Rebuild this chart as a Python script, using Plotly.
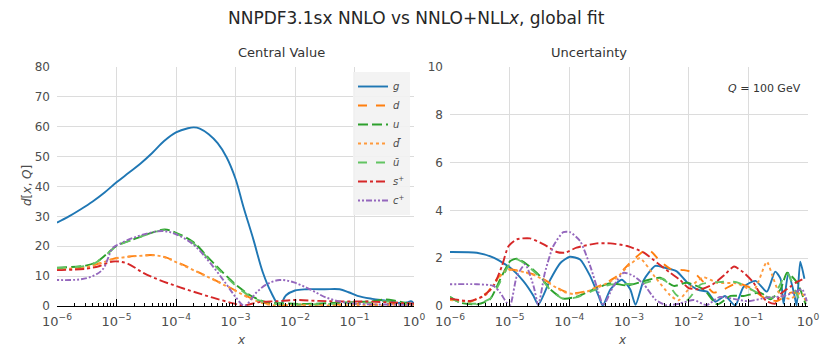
import plotly.graph_objects as go

# ---- data (x given as log10 positions) ----
# Central value panel
g_cv_lx = [-6, -5.8, -5.6, -5.4, -5.2, -5.0, -4.8, -4.6, -4.4, -4.2, -4.0, -3.8, -3.7, -3.6,
           -3.45, -3.3, -3.15, -3.0, -2.87, -2.7, -2.54, -2.4, -2.26, -2.15, -2.0, -1.8, -1.5,
           -1.25, -1.1, -0.95, -0.7, -0.45, -0.25, -0.12, -0.05, 0]
g_cv = [27.9, 30.0, 32.4, 35.0, 38.0, 41.4, 44.5, 47.6, 51.2, 55.2, 58.1, 59.5, 59.8, 59.4,
        57.5, 54.5, 49.8, 42.6, 33.4, 22.3, 11.2, 4.5, 0.2, 3.6, 5.2, 5.6, 5.6,
        5.6, 4.6, 3.4, 2.4, 1.7, 1.0, 1.2, 1.6, 0.8]

d_cv_lx = [-6, -5.5, -5.28, -5.06, -4.72, -4.33, -4.16, -4.0, -3.6, -3.32, -3.04, -2.76, -2.48,
           -2.2, -1.8, -1.4, -1.0, -0.6, -0.3, 0]
d_cv = [12.5, 13.1, 14.3, 15.8, 16.7, 17.0, 16.2, 14.9, 11.1, 8.4, 5.6, 2.8, 0.8,
        0.3, 0.6, 0.4, 0.7, 0.5, 0.8, 0.4]
dbar_cv = [12.3, 13.0, 14.2, 15.7, 16.6, 16.9, 16.1, 14.7, 11.0, 8.3, 5.5, 2.6, 0.6,
           0.1, 0.3, 0.2, 0.3, 0.2, 0.4, 0.2]

u_cv_lx = [-6, -5.5, -5.34, -5.17, -5.0, -4.72, -4.44, -4.19, -4.0, -3.71, -3.43, -3.15, -2.93,
           -2.71, -2.48, -2.2, -1.8, -1.4, -1.0, -0.7, -0.5, -0.3, -0.1, 0]
u_cv = [12.8, 13.6, 14.7, 17.3, 20.1, 22.3, 24.3, 25.6, 24.5, 21.4, 15.6, 10.0, 6.1,
        3.1, 1.3, 0.9, 0.7, 1.0, 1.3, 1.6, 2.2, 1.7, 0.9, 0.5]
ubar_cv = [12.7, 13.5, 14.6, 17.2, 20.0, 22.2, 24.2, 25.4, 24.2, 21.0, 15.2, 9.6, 5.7,
           2.8, 1.1, 0.6, 0.5, 0.7, 1.0, 1.2, 1.6, 1.2, 0.6, 0.3]

s_cv_lx = [-6, -5.5, -5.28, -5.06, -4.83, -4.55, -4.28, -4.0, -3.71, -3.38, -3.04, -2.87, -2.6,
           -2.3, -2.0, -1.6, -1.2, -0.8, -0.4, 0]
s_cv = [12.0, 12.5, 13.4, 14.9, 14.3, 11.1, 8.7, 6.7, 4.8, 2.8, 0.9, 0.2, 1.3,
        1.6, 2.0, 1.7, 1.5, 1.5, 1.2, 0.8]

c_cv_lx = [-6, -5.62, -5.4, -5.23, -5.06, -4.95, -4.72, -4.44, -4.21, -4.0, -3.71, -3.43, -3.15,
           -2.99, -2.85, -2.65, -2.48, -2.26, -2.03, -1.75, -1.47, -1.14, -0.8, -0.4, 0]
c_cv = [8.7, 8.9, 10.0, 12.3, 19.5, 20.8, 22.8, 24.5, 25.1, 24.0, 20.6, 14.5, 7.2,
        2.8, 0.1, 4.5, 7.2, 8.7, 8.0, 5.6, 2.8, 1.1, 0.6, 0.5, 0.3]

# Uncertainty panel
g_unc_lx = [-6, -5.55, -5.27, -4.99, -4.77, -4.6, -4.52, -4.32, -4.15, -3.99, -3.82, -3.65, -3.51,
            -3.44, -3.31, -3.12, -2.98, -2.89, -2.75, -2.56, -2.4, -2.2, -2.03, -1.84, -1.69,
            -1.55, -1.39, -1.22, -1.08, -0.88, -0.69, -0.55, -0.46, -0.41, -0.33, -0.24, -0.19,
            -0.13, -0.06]
g_unc = [2.26, 2.23, 2.02, 1.6, 1.04, 0.42, 0.05, 1.1, 1.8, 2.06, 1.95, 1.25, 0.42,
         0.02, 0.7, 1.1, 0.7, 0.05, 1.1, 1.68, 1.6, 1.45, 1.0, 0.67, 0.6,
         0.18, 0.42, 0.02, 0.8, 1.05, 0.6, 1.44, 1.14, 0.1, 1.37, 0.6, 0.02,
         1.85, 1.14]

d_unc_lx = [-6, -5.66, -5.38, -5.22, -5.05, -4.82, -4.55, -4.32, -4.1, -3.93, -3.71, -3.43, -3.2,
            -2.98, -2.75, -2.64, -2.48, -2.31, -2.08, -1.91, -1.75, -1.58, -1.41, -1.19, -0.97,
            -0.74, -0.52, -0.29, -0.12, -0.03]
d_unc = [0.28, 0.18, 0.56, 1.11, 1.53, 1.46, 1.28, 0.95, 0.63, 0.53, 0.63, 0.91, 1.25,
         1.81, 2.3, 2.3, 1.88, 1.56, 1.5, 1.39, 1.0, 0.56, 0.7, 0.95, 0.77,
         0.35, 0.21, 0.56, 0.5, 0.2]

dbar_unc_lx = [-6, -5.66, -5.38, -5.22, -5.05, -4.82, -4.55, -4.32, -4.1, -3.93, -3.71, -3.43,
               -3.2, -3.0, -2.82, -2.55, -2.31, -2.17, -1.97, -1.75, -1.52, -1.2, -0.91, -0.69,
               -0.58, -0.46, -0.3, -0.12, -0.03]
dbar_unc = [0.25, 0.2, 0.5, 1.05, 1.5, 1.45, 1.25, 0.92, 0.6, 0.5, 0.6, 0.88,
            1.2, 1.7, 2.0, 1.17, 0.45, 0.24, 0.8, 1.2, 0.97, 0.95, 0.67, 1.85,
            1.14, 0.45, 0.3, 0.55, 0.3]

u_unc_lx = [-6, -5.83, -5.55, -5.33, -5.16, -4.99, -4.88, -4.71, -4.49, -4.32, -4.1, -3.88, -3.59,
            -3.31, -3.03, -2.75, -2.48, -2.25, -2.03, -1.75, -1.52, -1.3, -1.08, -0.8, -0.63,
            -0.46, -0.35, -0.18, -0.04]
u_unc = [0.39, 0.14, 0.07, 0.28, 1.11, 1.88, 1.98, 1.74, 1.25, 0.7, 0.31, 0.39, 0.7,
         0.95, 0.86, 1.04, 1.18, 0.84, 0.97, 0.7, 0.07, 0.42, 0.42, 0.56, 0.28,
         0.7, 1.39, 0.97, 0.07]

ubar_unc_lx = [-6, -5.83, -5.55, -5.33, -5.16, -4.99, -4.88, -4.71, -4.49, -4.32, -4.1, -3.88,
               -3.59, -3.31, -3.03, -2.75, -2.43, -2.2, -2.03, -1.8, -1.5, -1.2, -0.8, -0.6,
               -0.35, -0.15, -0.03]
ubar_unc = [0.35, 0.15, 0.1, 0.3, 1.0, 1.8, 1.95, 1.7, 1.2, 0.68, 0.3, 0.36,
            0.65, 0.9, 0.92, 0.95, 1.14, 0.45, 0.24, 0.9, 1.0, 1.0, 0.5, 0.35,
            1.37, 0.3, 0.1]

s_unc_lx = [-6, -5.66, -5.44, -5.27, -5.13, -5.02, -4.88, -4.66, -4.43, -4.21, -4.07, -3.88, -3.54,
            -3.31, -3.03, -2.75, -2.53, -2.31, -2.15, -2.0, -1.8, -1.6, -1.4, -1.24, -1.08,
            -0.92, -0.8, -0.69, -0.55, -0.46, -0.3, -0.19, -0.06]
s_unc = [0.31, 0.21, 0.42, 0.84, 1.67, 2.5, 2.79, 2.83, 2.58, 2.26, 2.23, 2.44, 2.62,
         2.62, 2.51, 2.23, 1.81, 1.39, 1.1, 0.75, 0.7, 0.9, 1.3, 1.65, 1.4,
         1.0, 0.5, 0.2, 0.1, 0.5, 0.8, 1.0, 1.15]

c_unc_lx = [-6, -5.55, -5.27, -5.16, -5.05, -4.99, -4.88, -4.74, -4.6, -4.52, -4.41, -4.27, -4.1,
            -3.99, -3.82, -3.65, -3.51, -3.43, -3.26, -3.09, -2.92, -2.75, -2.55, -2.37, -2.15,
            -1.92, -1.7, -1.48, -1.25, -1.0, -0.7, -0.45, -0.25, -0.1, -0.02]
c_unc = [0.91, 0.91, 0.84, 0.56, 0.14, 0.05, 1.25, 1.74, 0.84, 0.05, 1.39, 2.5, 3.09,
         3.09, 2.72, 1.67, 0.56, 0.02, 0.84, 1.39, 1.25, 0.9, 0.25, 0.03, 0.1,
         0.25, 0.04, 0.38, 0.3, 0.2, 0.35, 0.4, 0.55, 0.7, 0.2]

tick_exps = [-6, -5, -4, -3, -2, -1, 0]
tick_text = ["10<sup>−6</sup>", "10<sup>−5</sup>", "10<sup>−4</sup>", "10<sup>−3</sup>",
             "10<sup>−2</sup>", "10<sup>−1</sup>", "10<sup>0</sup>"]

FONT = "DejaVu Sans"
# page body adds an 8px margin, so the figure is drawn 8px smaller than the window
W, H = 823, 352

series = [
    # name, colour, dash, central (lx, y), uncertainty (lx, y)
    ("<i>g</i>", "#1f77b4", "solid", g_cv_lx, g_cv, g_unc_lx, g_unc),
    ("<i>d</i>", "#ff7f0e", "dash", d_cv_lx, d_cv, d_unc_lx, d_unc),
    ("<i>u</i>", "#2ca02c", "10px,4px", u_cv_lx, u_cv, u_unc_lx, u_unc),
    ("<i>d̄</i>", "#ff9a3c", "dot", d_cv_lx, dbar_cv, dbar_unc_lx, dbar_unc),
    ("<i>ū</i>", "#62c462", "dash", u_cv_lx, ubar_cv, ubar_unc_lx, ubar_unc),
    ("<i>s</i><sup>+</sup>", "#d62728", "dashdot", s_cv_lx, s_cv, s_unc_lx, s_unc),
    ("<i>c</i><sup>+</sup>", "#9467bd", "2px,2px,2px,2px,6px,2px", c_cv_lx, c_cv, c_unc_lx, c_unc),
]

fig = go.Figure()
for name, col, dash, lx1, y1, lx2, y2 in series:
    fig.add_trace(go.Scatter(
        x=[10 ** v for v in lx1], y=y1, name=name, mode="lines",
        line=dict(color=col, dash=dash, width=1.9, shape="spline", smoothing=1.0),
        xaxis="x", yaxis="y",
    ))
    fig.add_trace(go.Scatter(
        x=[10 ** v for v in lx2], y=y2, name=name, mode="lines", showlegend=False,
        line=dict(color=col, dash=dash, width=1.9, shape="spline", smoothing=0.6),
        xaxis="x2", yaxis="y2",
    ))

xcommon = dict(
    type="log", range=[-6, 0], automargin=False,
    tickvals=[10 ** v for v in tick_exps], ticktext=tick_text,
    showgrid=True, gridcolor="#dcdcdc", gridwidth=1, zeroline=False,
    showline=True, linecolor="black", linewidth=1,
    ticks="inside", ticklen=7, tickcolor="black", tickwidth=1, ticklabelstandoff=3,
    minor=dict(ticks="inside", ticklen=3.5, tickcolor="black", showgrid=False, dtick="D1"),
    tickfont=dict(size=13, color="#4d4d4d", family=FONT),
)
ycommon = dict(
    showgrid=True, gridcolor="#dcdcdc", gridwidth=1, zeroline=False, showline=False,
    automargin=False, ticks="", ticklabelstandoff=6,
    tickfont=dict(size=12, color="#4d4d4d", family=FONT),
)

fig.update_layout(
    width=W, height=H,
    margin=dict(l=0, r=0, t=0, b=0, autoexpand=False),
    paper_bgcolor="white", plot_bgcolor="white",
    font=dict(family=FONT, color="#333333"),
    xaxis=dict(domain=[49 / W, 406 / W], anchor="y", **xcommon),
    xaxis2=dict(domain=[442 / W, 800 / W], anchor="y2", **xcommon),
    yaxis=dict(domain=[1 - 298 / H, 1 - 59 / H], anchor="x", range=[0, 80], dtick=10, **ycommon),
    yaxis2=dict(domain=[1 - 298 / H, 1 - 59 / H], anchor="x2", range=[0, 10], dtick=2, **ycommon),
    legend=dict(x=402 / W, xanchor="right", y=1 - 64 / H, yanchor="top",
                bgcolor="rgba(242,242,242,0.9)", borderwidth=0,
                font=dict(size=10, color="#4d4d4d", family=FONT),
                itemwidth=30, tracegroupgap=0),
    showlegend=True,
)

labels = [
    ("NNPDF3.1sx NNLO vs NNLO+NLL<i>x</i>, global fit", 408, 10, 17, "#262626", 0),
    ("Central Value", 227.5, 45, 13, "#333333", 0),
    ("Uncertainty", 621, 45, 13, "#333333", 0),
    ("<i>x</i>", 227.5, 332, 12, "#4d4d4d", 0),
    ("<i>x</i>", 621, 332, 12, "#4d4d4d", 0),
    ("<i>d</i>[<i>x</i>, <i>Q</i>]", 10, 178, 12, "#4d4d4d", -90),
]
for txt, px, py, size, col, ang in labels:
    fig.add_annotation(text=txt, xref="paper", yref="paper", x=px / W, y=1 - py / H,
                       yanchor="middle", showarrow=False, textangle=ang,
                       font=dict(size=size, color=col, family=FONT))
fig.add_annotation(text="<i>Q</i> = 100 GeV", xref="paper", yref="paper", x=795 / W, y=1 - 80 / H,
                   xanchor="right", yanchor="middle", showarrow=False,
                   font=dict(size=11, color="#333333", family=FONT))

fig.write_html("out.html")
